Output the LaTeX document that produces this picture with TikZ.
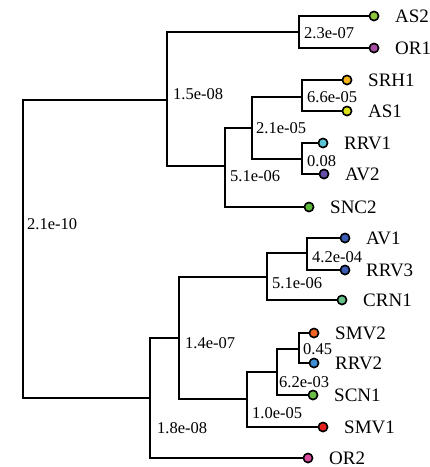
\documentclass[tikz,border=0pt]{standalone}
\usepackage{fontspec}
\setmainfont{Liberation Serif}
\definecolor{cAStwo}{HTML}{8CC63F}
\definecolor{cORone}{HTML}{A64CA6}
\definecolor{cSRH}{HTML}{F9B41B}
\definecolor{cASone}{HTML}{DDE21B}
\definecolor{cRRVone}{HTML}{5BC5D5}
\definecolor{cAVtwo}{HTML}{6650A8}
\definecolor{cSNC}{HTML}{5DB83A}
\definecolor{cAVone}{HTML}{3C5DB5}
\definecolor{cCRN}{HTML}{66C088}
\definecolor{cSMVtwo}{HTML}{F26424}
\definecolor{cRRVtwo}{HTML}{3E8FD6}
\definecolor{cSCN}{HTML}{6CBD45}
\definecolor{cSMVone}{HTML}{E82020}
\definecolor{cORtwo}{HTML}{D94CA0}
\tikzset{
  leaf/.style={circle,draw=black,line width=1.5pt,fill=#1,minimum size=9pt,inner sep=0pt},
  branch/.style={line width=2pt,black},
  blabel/.style={anchor=west,inner sep=0pt,font=\fontsize{16.5}{18}\selectfont},
  llabel/.style={anchor=west,inner sep=0pt,font=\fontsize{19}{21}\selectfont}
}
\begin{document}
\begin{tikzpicture}[x=1pt,y=-1pt]
\useasboundingbox (0,0) rectangle (430,467);
% internal nodes
\coordinate (r) at (23,249);
\coordinate (n1) at (167,100);
\coordinate (n2) at (299,32);
\coordinate (n3) at (225,166);
\coordinate (n4) at (252,128);
\coordinate (n5) at (302,97);
\coordinate (n6) at (302,159);
\coordinate (m1) at (150,398);
\coordinate (m2) at (179,338);
\coordinate (m3) at (267,277);
\coordinate (m5) at (307,253);
\coordinate (m4) at (247,399);
\coordinate (m6) at (277,372);
\coordinate (m7) at (299,349);
% leaves
\node[leaf=cAStwo] (AS2) at (374,16) {};
\node[leaf=cORone] (OR1) at (374,48) {};
\node[leaf=cSRH] (SRH1) at (347,80) {};
\node[leaf=cASone] (AS1) at (347,111) {};
\node[leaf=cRRVone] (RRV1) at (323,143) {};
\node[leaf=cAVtwo] (AV2) at (324,174) {};
\node[leaf=cSNC] (SNC2) at (309,207) {};
\node[leaf=cAVone] (AV1) at (345,238) {};
\node[leaf=cAVone] (RRV3) at (345,270) {};
\node[leaf=cCRN] (CRN1) at (342,300) {};
\node[leaf=cSMVtwo] (SMV2) at (314,333) {};
\node[leaf=cRRVtwo] (RRV2) at (314,363) {};
\node[leaf=cSCN] (SCN1) at (313,395) {};
\node[leaf=cSMVone] (SMV1) at (323,427) {};
\node[leaf=cORtwo] (OR2) at (308,458) {};
% branches
\begin{scope}[branch]
\draw (r) |- (n1); \draw (r) |- (m1);
\draw (n1) |- (n2); \draw (n1) |- (n3);
\draw (n2) |- (AS2); \draw (n2) |- (OR1);
\draw (n3) |- (n4); \draw (n3) |- (SNC2);
\draw (n4) |- (n5); \draw (n4) |- (n6);
\draw (n5) |- (SRH1); \draw (n5) |- (AS1);
\draw (n6) |- (RRV1); \draw (n6) |- (AV2);
\draw (m1) |- (m2); \draw (m1) |- (OR2);
\draw (m2) |- (m3); \draw (m2) |- (m4);
\draw (m3) |- (m5); \draw (m3) |- (CRN1);
\draw (m5) |- (AV1); \draw (m5) |- (RRV3);
\draw (m4) |- (m6); \draw (m4) |- (SMV1);
\draw (m6) |- (m7); \draw (m6) |- (SCN1);
\draw (m7) |- (SMV2); \draw (m7) |- (RRV2);
\end{scope}
% redraw leaves on top
\foreach \l/\c in {AS2/cAStwo,OR1/cORone,SRH1/cSRH,AS1/cASone,RRV1/cRRVone,AV2/cAVtwo,SNC2/cSNC,AV1/cAVone,RRV3/cAVone,CRN1/cCRN,SMV2/cSMVtwo,RRV2/cRRVtwo,SCN1/cSCN,SMV1/cSMVone,OR2/cORtwo}
  \node[leaf=\c] at (\l) {};
% leaf labels
\foreach \l in {AS2,OR1,SRH1,AS1,RRV1,AV2,SNC2,AV1,RRV3,CRN1,SMV2,RRV2,SCN1,SMV1,OR2}
  \node[llabel] (t\l) at ([xshift=21pt]\l.center) {\l};
% branch labels
\node[blabel] (b1) at (304,33) {2.3e-07};
\node[blabel] (b2) at (173,94) {1.5e-08};
\node[blabel] (b3) at (230,176) {5.1e-06};
\node[blabel] (b4) at (256,128) {2.1e-05};
\node[blabel] (b5) at (307,97) {6.6e-05};
\node[blabel] (b6) at (307,161) {0.08};
\node[blabel] (b7) at (27,224) {2.1e-10};
\node[blabel] (b8) at (157,428) {1.8e-08};
\node[blabel] (b9) at (185,343) {1.4e-07};
\node[blabel] (b10) at (272,283) {5.1e-06};
\node[blabel] (b11) at (312,257) {4.2e-04};
\node[blabel] (b12) at (252,413) {1.0e-05};
\node[blabel] (b13) at (279,382) {6.2e-03};
\node[blabel] (b14) at (303,349) {0.45};
\end{tikzpicture}
\end{document}
